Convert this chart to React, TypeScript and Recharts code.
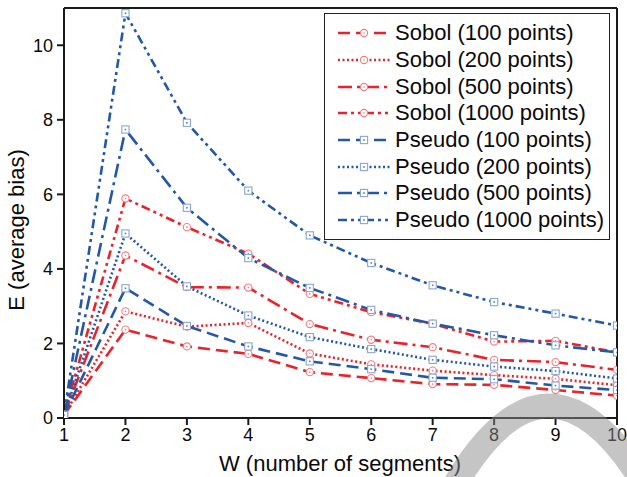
import React from 'react';
import { LineChart, Line, XAxis, YAxis, ReferenceLine, Legend } from 'recharts';

const segments = [1, 2, 3, 4, 5, 6, 7, 8, 9, 10];
const sobol100 = [0.08, 2.37, 1.92, 1.72, 1.23, 1.07, 0.91, 0.89, 0.75, 0.6];
const sobol200 = [0.08, 2.86, 2.45, 2.55, 1.73, 1.44, 1.27, 1.15, 1.05, 0.88];
const sobol500 = [0.08, 4.36, 3.51, 3.5, 2.52, 2.1, 1.9, 1.56, 1.5, 1.29];
const sobol1000 = [0.08, 5.89, 5.12, 4.41, 3.33, 2.84, 2.53, 2.05, 2.07, 1.76];
const pseudo100 = [0.08, 3.48, 2.47, 1.92, 1.52, 1.31, 1.08, 1.04, 0.87, 0.75];
const pseudo200 = [0.08, 4.95, 3.53, 2.75, 2.17, 1.85, 1.56, 1.38, 1.26, 1.06];
const pseudo500 = [0.08, 7.74, 5.64, 4.29, 3.49, 2.9, 2.53, 2.22, 1.95, 1.76];
const pseudo1000 = [0.08, 10.86, 7.92, 6.1, 4.9, 4.16, 3.56, 3.11, 2.8, 2.48];
const xTicks = [1, 2, 3, 4, 5, 6, 7, 8, 9, 10];
const yTicks = [0, 2, 4, 6, 8, 10];

const RED = '#e8232b';
const BLUE = '#2557a7';
const FONT = 'Liberation Sans, Arial, sans-serif';

const DASHED = '12 6';
const DOTTED = '2 2.5';
const DASHDOT = '14 5 3 5';
const DASHDOTDOT = '9 4 3 4 3 4';

type Series = { key: string; name: string; values: number[]; color: string; dash: string; shape: 'circle' | 'square' };

const series: Series[] = [
  { key: 's100', name: 'Sobol (100 points)', values: sobol100, color: RED, dash: DASHED, shape: 'circle' },
  { key: 's200', name: 'Sobol (200 points)', values: sobol200, color: RED, dash: DOTTED, shape: 'circle' },
  { key: 's500', name: 'Sobol (500 points)', values: sobol500, color: RED, dash: DASHDOT, shape: 'circle' },
  { key: 's1000', name: 'Sobol (1000 points)', values: sobol1000, color: RED, dash: DASHDOTDOT, shape: 'circle' },
  { key: 'p100', name: 'Pseudo (100 points)', values: pseudo100, color: BLUE, dash: DASHED, shape: 'square' },
  { key: 'p200', name: 'Pseudo (200 points)', values: pseudo200, color: BLUE, dash: DOTTED, shape: 'square' },
  { key: 'p500', name: 'Pseudo (500 points)', values: pseudo500, color: BLUE, dash: DASHDOT, shape: 'square' },
  { key: 'p1000', name: 'Pseudo (1000 points)', values: pseudo1000, color: BLUE, dash: DASHDOTDOT, shape: 'square' },
];

const data = segments.map((w, i) => {
  const row: Record<string, number> = { w };
  series.forEach(s => { row[s.key] = s.values[i]; });
  return row;
});

function Marker({ cx, cy, shape }: { cx: number; cy: number; shape: 'circle' | 'square' }) {
  if (shape === 'circle') {
    return (
      <g>
        <circle cx={cx} cy={cy} r={3.6} fill="#fff" stroke="#f27d80" strokeWidth={1.1} />
        <circle cx={cx} cy={cy} r={0.8} fill="#f27d80" />
      </g>
    );
  }
  return (
    <g>
      <rect x={cx - 3.6} y={cy - 3.6} width={7.2} height={7.2} fill="#fff" stroke="#8aa6d2" strokeWidth={1.1} />
      <rect x={cx - 0.8} y={cy - 0.8} width={1.6} height={1.6} fill="#5d7fb8" />
    </g>
  );
}

function LegendBox() {
  return (
    <div style={{ border: '1.5px solid #222', background: '#fff', padding: '6px 0 5px 0', boxSizing: 'border-box' }}>
      {series.map(s => (
        <div key={s.key} style={{ display: 'flex', alignItems: 'center', height: 26.7 }}>
          <svg width={70} height={14} style={{ flex: 'none' }}>
            <line x1={13} y1={7} x2={65} y2={7} stroke={s.color} strokeWidth={2.5} strokeDasharray={s.dash} />
            <Marker cx={39} cy={7} shape={s.shape} />
          </svg>
          <span style={{ fontFamily: FONT, fontSize: 22, color: '#0a0a0a', lineHeight: '26px', whiteSpace: 'nowrap' }}>{s.name}</span>
        </div>
      ))}
    </div>
  );
}

export default function App() {
  return (
    <div style={{ position: 'absolute', left: 0, top: 0, width: 627, height: 477, background: '#fff' }}>
      <LineChart width={627} height={477} data={data} margin={{ top: 8, right: 10, left: 0, bottom: 0 }}>
        <XAxis
          dataKey="w"
          type="number"
          domain={[1, 10]}
          ticks={xTicks}
          allowDataOverflow
          height={59}
          tickSize={7}
          tickMargin={3}
          stroke="#1a1a1a"
          strokeWidth={2}
          tick={{ fontSize: 18, fill: '#0a0a0a', fontFamily: FONT }}
          label={(p: any) => {
            const vb = p.viewBox;
            return (
              <text x={340} y={vb.y + vb.height - 6} textAnchor="middle" fontSize={22} fontFamily={FONT} fill="#0a0a0a">
                W (number of segments)
              </text>
            );
          }}
        />
        <YAxis
          type="number"
          domain={[0, 11]}
          ticks={yTicks}
          allowDataOverflow
          width={64}
          tickSize={7}
          tickMargin={4}
          stroke="#1a1a1a"
          strokeWidth={2}
          tick={{ fontSize: 18, fill: '#0a0a0a', fontFamily: FONT }}
          label={() => (
            <text x={24} y={230} transform="rotate(-90 24 230)" textAnchor="middle" fontSize={22} fontFamily={FONT} fill="#0a0a0a">
              E (average bias)
            </text>
          )}
        />
        <ReferenceLine y={11} stroke="#1a1a1a" strokeWidth={2} />
        <ReferenceLine x={10} stroke="#1a1a1a" strokeWidth={2} />
        {series.map(s => (
          <Line
            key={s.key}
            dataKey={s.key}
            name={s.name}
            type="linear"
            stroke={s.color}
            strokeWidth={2.6}
            strokeDasharray={s.dash}
            isAnimationActive={false}
            dot={(p: any) => <Marker key={`${s.key}-${p.index}`} cx={p.cx} cy={p.cy} shape={s.shape} />}
            activeDot={false}
          />
        ))}
        <Legend
          layout="vertical"
          align="center"
          verticalAlign="middle"
          content={() => <LegendBox />}
          wrapperStyle={{ left: 324, top: 13, width: 286, height: 220 }}
        />
      </LineChart>
      <svg width={627} height={477} style={{ position: 'absolute', left: 0, top: 0, pointerEvents: 'none' }}>
        <path d="M 440 512 Q 548 300 660 512" fill="none" stroke="#8c8c8c" strokeOpacity={0.5} strokeWidth={25} />
      </svg>
    </div>
  );
}
